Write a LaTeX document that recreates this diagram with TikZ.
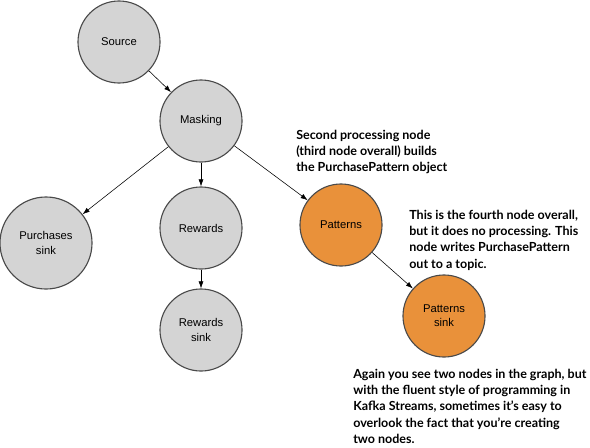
\documentclass[tikz,border=0pt]{standalone}
\usepackage{fontspec}
\setmainfont{Liberation Sans}
\newfontfamily\notefont{Lato}
\usetikzlibrary{arrows.meta, positioning}
\definecolor{nodegray}{HTML}{D4D4D4}
\definecolor{edgegray}{HTML}{4A4A4A}
\definecolor{pattorange}{HTML}{E9913A}
\tikzset{
  proc/.style={circle, draw=edgegray, fill=#1, thick, minimum size=2.05cm,
               inner sep=0pt, align=center, font=\fontsize{8}{10}\selectfont},
  proc/.default=nodegray,
  note/.style={anchor=north west, align=left, inner sep=0pt,
               font=\notefont\bfseries\fontsize{8.9}{11.5}\selectfont},
  arr/.style={-{Latex[length=5pt, width=3.5pt]}, thin, #1},
  arr/.default=black,
}

\begin{document}
\begin{tikzpicture}[x=0.025cm, y=-0.025cm]
  \useasboundingbox (0,0) rectangle (590,447);

  \node[proc] (source) at (119,42) {Source};
  \node[proc] (masking) at (201,121) {Masking};
  \node[proc, minimum size=2.3cm] (purchases) at (46,243) {Purchases\\sink};
  \node[proc] (rewards) at (201,228) {Rewards};
  \node[proc] (rewardssink) at (201,330) {Rewards\\sink};
  \node[proc=pattorange] (patterns) at (341,225) {Patterns};
  \node[proc=pattorange] (patternssink) at (444,316) {Patterns\\sink};

  \draw[arr] (source) -- (masking);
  \draw[arr] (masking) -- (purchases);
  \draw[arr] (masking) -- (rewards);
  \draw[arr] (masking) -- (patterns);
  \draw[arr] (rewards) -- (rewardssink);
  \draw[arr] (patterns) -- (patternssink);

  % callouts
  \node[note] (notepatterns) at (296,130) {Second processing node\\(third node overall) builds\\the PurchasePattern object};
  \node[note] (notesink) at (409,210) {This is the fourth node overall,\\but it does no processing. This\\node writes PurchasePattern\\out to a topic.};
  \node[note] (notegraph) at (353,369) {Again you see two nodes in the graph, but\\with the fluent style of programming in\\Kafka Streams, sometimes it’s easy to\\overlook the fact that you’re creating\\two nodes.};
\end{tikzpicture}
\end{document}
